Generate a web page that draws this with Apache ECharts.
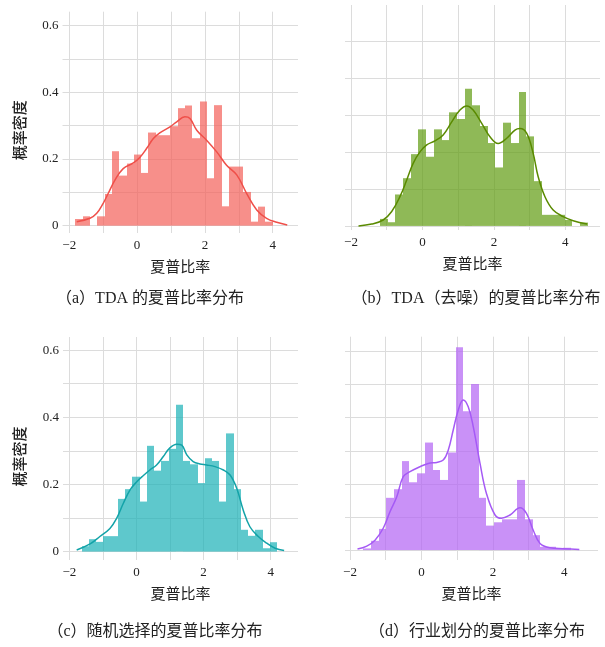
<!DOCTYPE html>
<html>
<head>
<meta charset="utf-8">
<script src="https://cdn.jsdelivr.net/npm/echarts@6/dist/echarts.min.js"></script>
<style>
  html, body { margin: 0; padding: 0; background: #fff; }
  #main { width: 605px; height: 647px; }
</style>
</head>
<body>
<div id="main"></div>
<script>
// histogram heights (density), 27 bins per panel
var histA = [0.020, 0.028, 0, 0.028, 0.095, 0.223, 0.150, 0.186, 0.213, 0.158, 0.279, 0.271, 0.271,
  0.298, 0.352, 0.360, 0.262, 0.372, 0.142, 0.361, 0.058, 0.177, 0.177, 0.101, 0.012, 0.057, 0.012];
var histB = [0.019, 0.010, 0.085, 0.129, 0.194, 0.261, 0.187, 0.261, 0.232, 0.307, 0.289, 0.371, 0.326,
  0.270, 0.224, 0.158, 0.279, 0.224, 0.362, 0.242, 0.121, 0.030, 0.030, 0.030, 0.016, 0, 0.009];
var histC = [0.016, 0.037, 0.029, 0.046, 0.046, 0.157, 0.186, 0.223, 0.149, 0.315, 0.241, 0.270, 0.306,
  0.437, 0.270, 0.260, 0.204, 0.278, 0.270, 0.149, 0.352, 0.186, 0.065, 0.047, 0.065, 0.010, 0.028];
var histD = [0.005, 0.028, 0.064, 0.158, 0.184, 0.269, 0.205, 0.232, 0.325, 0.242, 0.212, 0.295, 0.613,
  0.420, 0.502, 0.158, 0.074, 0.084, 0.093, 0.093, 0.212, 0.093, 0.045, 0.010, 0.010, 0.005, 0.007];
var binStart = [-1.82, -1.19, -1.63, -1.63];
var binWidth = 0.2156;

// kde curves
var kdeA = [[-1.78, 0.012], [-1.39, 0.022], [-1.19, 0.037], [-1.0, 0.067], [-0.85, 0.097], [-0.65, 0.137],
  [-0.41, 0.171], [-0.11, 0.188], [0.08, 0.204], [0.28, 0.231], [0.48, 0.261], [0.67, 0.278], [0.97, 0.296],
  [1.17, 0.311], [1.41, 0.326], [1.56, 0.321], [1.76, 0.286], [2.05, 0.256], [2.35, 0.221], [2.64, 0.181],
  [2.94, 0.152], [3.23, 0.097], [3.53, 0.047], [3.82, 0.022], [4.12, 0.010], [4.43, 0.002]];
var kdeB = [[-1.79, 0.0], [-1.42, 0.005], [-1.10, 0.016], [-0.86, 0.039], [-0.63, 0.079], [-0.44, 0.124],
  [-0.26, 0.169], [-0.07, 0.200], [0.12, 0.219], [0.35, 0.230], [0.58, 0.246], [0.82, 0.281], [1.05, 0.313],
  [1.24, 0.324], [1.42, 0.313], [1.66, 0.277], [1.89, 0.241], [2.12, 0.223], [2.36, 0.237], [2.59, 0.259],
  [2.73, 0.263], [2.92, 0.250], [3.10, 0.196], [3.24, 0.133], [3.43, 0.079], [3.66, 0.043], [3.94, 0.025],
  [4.22, 0.014], [4.61, 0.005]];
var kdeC = [[-1.78, 0.005], [-1.38, 0.023], [-1.09, 0.045], [-0.79, 0.069], [-0.59, 0.099], [-0.39, 0.144],
  [-0.19, 0.184], [0.01, 0.208], [0.20, 0.226], [0.40, 0.243], [0.60, 0.258], [0.80, 0.283], [0.99, 0.308],
  [1.20, 0.320], [1.35, 0.317], [1.50, 0.288], [1.69, 0.268], [1.89, 0.261], [2.09, 0.258], [2.34, 0.253],
  [2.59, 0.243], [2.79, 0.228], [2.99, 0.188], [3.18, 0.124], [3.38, 0.074], [3.63, 0.045], [3.88, 0.025],
  [4.13, 0.010], [4.40, 0.003]];
var kdeD = [[-1.79, 0.003], [-1.53, 0.012], [-1.30, 0.030], [-1.07, 0.066], [-0.88, 0.116], [-0.69, 0.161],
  [-0.51, 0.222], [-0.32, 0.237], [-0.04, 0.252], [0.19, 0.262], [0.43, 0.265], [0.61, 0.272], [0.75, 0.302],
  [0.89, 0.363], [1.03, 0.423], [1.17, 0.454], [1.31, 0.433], [1.45, 0.373], [1.64, 0.262], [1.82, 0.171],
  [2.06, 0.106], [2.24, 0.096], [2.48, 0.106], [2.76, 0.128], [2.94, 0.111], [3.13, 0.060], [3.32, 0.020],
  [3.60, 0.007], [3.97, 0.004], [4.42, 0.002]];

// ticks and labels
var xTicks = [-2, -1, 0, 1, 2, 3, 4];
var xTickLabels = [-2, 0, 2, 4];
var yTicks = [0, 0.1, 0.2, 0.3, 0.4, 0.5, 0.6];
var yTicksB = [0, 0.1, 0.2, 0.3, 0.4, 0.5];
var yTickLabels = [0, 0.2, 0.4, 0.6];
var captions = ['（a）TDA 的夏普比率分布', '（b）TDA（去噪）的夏普比率分布', '（c）随机选择的夏普比率分布', '（d）行业划分的夏普比率分布'];
var xName = '夏普比率';
var yName = '概率密度';

var hists = [histA, histB, histC, histD];
var kdes = [kdeA, kdeB, kdeC, kdeD];

// layout
var grids = [
  { left: 62.5, top: 11.7, width: 235.5, height: 221.3 },
  { left: 345, top: 5, width: 255, height: 225 },
  { left: 63, top: 337, width: 235, height: 223 },
  { left: 345, top: 336.7, width: 253, height: 223.3 }
];
var xRange = [[-2.2, 4.747], [-2.168, 4.971], [-2.188, 4.813], [-2.14, 4.943]];
var yRange = [[-0.022, 0.641], [-0.011, 0.597], [-0.025, 0.639], [-0.030, 0.645]];
var barColors = ['rgba(244,95,89,0.7)', 'rgba(95,155,16,0.7)', 'rgba(25,176,182,0.7)', 'rgba(178,99,244,0.7)'];
var lineColors = ['#ef4f49', '#5a8a00', '#13a3a8', '#a55af5'];
var captionPos = [[150, 299], [476, 299], [155, 632], [477, 632]];

var serif = "'Liberation Serif', 'DejaVu Serif', 'Noto Sans CJK SC', serif";
var cjk = "'Noto Sans CJK SC', sans-serif";

function fmtNum(v) {
  return v < 0 ? '\u2212' + Math.abs(v) : String(v);
}

var xAxes = [], yAxes = [], series = [];
for (var i = 0; i < 4; i++) {
  xAxes.push({
    type: 'value',
    gridIndex: i,
    min: xRange[i][0],
    max: xRange[i][1],
    name: xName,
    nameLocation: 'middle',
    nameGap: 26,
    nameTextStyle: { fontFamily: cjk, fontSize: 15, color: '#222' },
    axisLine: { show: false, onZero: false },
    axisTick: { show: false, customValues: xTicks },
    axisLabel: { customValues: xTickLabels, formatter: fmtNum, fontFamily: serif, fontSize: 13, color: '#222', margin: 6 },
    splitLine: { show: true, lineStyle: { color: '#dcdcdc', width: 1 } }
  });
  var showY = (i === 0 || i === 2);
  yAxes.push({
    type: 'value',
    gridIndex: i,
    min: yRange[i][0],
    max: yRange[i][1],
    name: showY ? yName : '',
    nameLocation: 'middle',
    nameRotate: 90,
    nameGap: 36,
    nameTextStyle: { fontFamily: cjk, fontSize: 15, fontWeight: 500, color: '#222', padding: [0, 16, 0, 0] },
    axisLine: { show: false, onZero: false },
    axisTick: { show: false, customValues: i === 1 ? yTicksB : yTicks },
    axisLabel: { show: showY, customValues: yTickLabels, formatter: fmtNum, fontFamily: serif, fontSize: 13, color: '#222', margin: 4 },
    splitLine: { show: true, lineStyle: { color: '#dcdcdc', width: 1 } }
  });

  var data = hists[i].map(function (h, k) {
    return [binStart[i] + k * binWidth, binStart[i] + (k + 1) * binWidth, h];
  });
  (function (color) {
    series.push({
      type: 'custom',
      xAxisIndex: i,
      yAxisIndex: i,
      encode: { x: [0, 1], y: 2 },
      data: data,
      renderItem: function (params, api) {
        var p0 = api.coord([api.value(0), api.value(2)]);
        var p1 = api.coord([api.value(1), 0]);
        // snap to whole pixels so neighbouring bars meet without seams
        var x0 = Math.round(p0[0]), x1 = Math.round(p1[0]);
        return {
          type: 'rect',
          shape: { x: x0, y: p0[1], width: x1 - x0, height: p1[1] - p0[1] },
          style: { fill: color }
        };
      },
      silent: true,
      z: 2
    });
  })(barColors[i]);
  series.push({
    type: 'line',
    xAxisIndex: i,
    yAxisIndex: i,
    data: kdes[i],
    smooth: 0.4,
    showSymbol: false,
    lineStyle: { color: lineColors[i], width: 1.5 },
    silent: true,
    z: 3
  });
}

var graphics = captions.map(function (t, k) {
  return {
    type: 'text',
    x: captionPos[k][0],
    y: captionPos[k][1],
    style: {
      text: t,
      font: '16px ' + serif,
      fill: '#222',
      textAlign: 'center',
      textVerticalAlign: 'middle'
    }
  };
});

var chart = echarts.init(document.getElementById('main'), null, { renderer: 'canvas' });
chart.setOption({
  animation: false,
  backgroundColor: '#fff',
  grid: grids,
  xAxis: xAxes,
  yAxis: yAxes,
  series: series,
  graphic: graphics
});
</script>
</body>
</html>
